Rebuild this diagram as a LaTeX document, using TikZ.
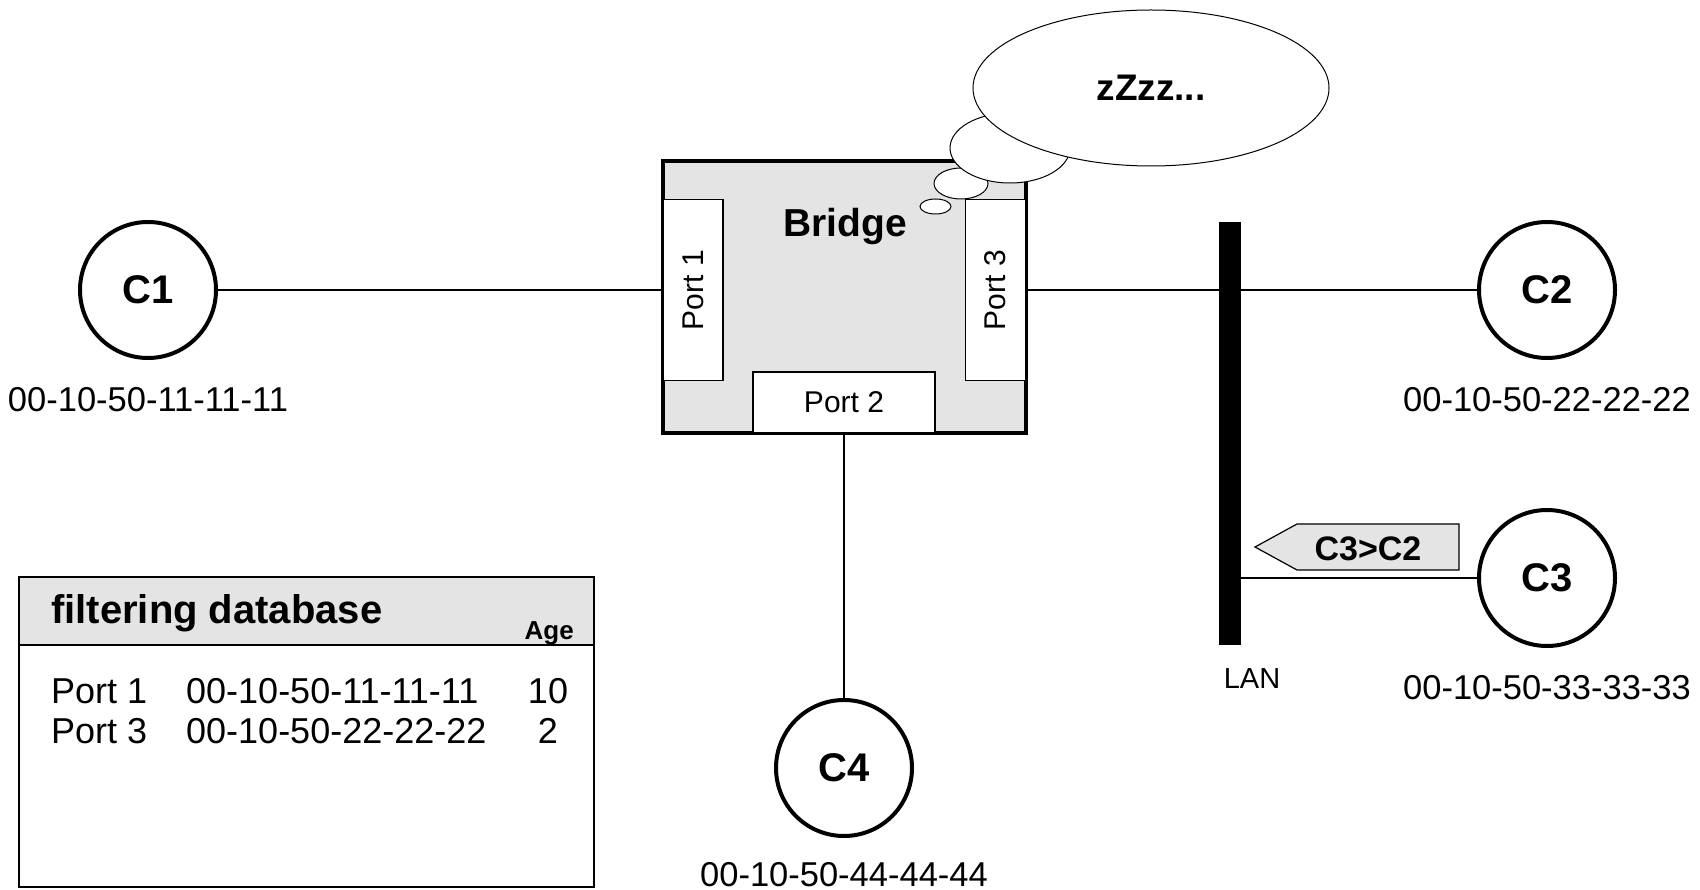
\documentclass[tikz,border=0pt]{standalone}
\usepackage{fontspec}
\setmainfont{Liberation Sans}
\usepackage{tikz}
\usetikzlibrary{positioning,shapes.geometric}
\definecolor{boxgray}{RGB}{228,228,228}
\newcommand{\fsz}[1]{\fontsize{#1}{#1}\selectfont}

\begin{document}
\begin{tikzpicture}[x=1pt, y=-1pt,
    host/.style={circle, draw, line width=4pt, minimum size=136pt, inner sep=0pt,
                 font=\fsz{40}\bfseries},
    mac/.style={inner sep=0pt, outer sep=0pt, font=\fsz{34.5}},
    port/.style={rectangle, draw, fill=white, line width=1.2pt, inner sep=0pt, font=\fsz{30}},
    wire/.style={line width=1.5pt},
    bubble/.style={draw, fill=white, line width=1pt},
    row/.style={anchor=base west, inner sep=0pt, font=\fsz{36}}]
\useasboundingbox (0,0) rectangle (1700,890);

% stations
\node[host] (c1) at (148,290) {C1};
\node[host] (c2) at (1547,290) {C2};
\node[host] (c3) at (1547,578) {C3};
\node[host] (c4) at (844,768) {C4};
\node[mac, below=27pt of c1] (m1) {00-10-50-11-11-11};
\node[mac, below=27pt of c2] (m2) {00-10-50-22-22-22};
\node[mac, below=27pt of c3] (m3) {00-10-50-33-33-33};
\node[mac, below=24pt of c4] (m4) {00-10-50-44-44-44};

% bridge
\node[draw, fill=boxgray, line width=4pt, minimum width=363pt, minimum height=272pt,
      inner sep=0pt] (bridge) at (844.5,297) {};
\node[port, rotate=90, minimum width=181pt, minimum height=60pt] (port1) at (693,290) {Port 1};
\node[port, rotate=90, minimum width=181pt, minimum height=60pt] (port3) at (995.5,290) {Port 3};
\node[port, minimum width=182pt, minimum height=61pt] (port2) at (844,402.5) {Port 2};
\node[font=\fsz{39}\bfseries, anchor=base, inner sep=0pt] (name) at (845,237) {Bridge};

% thought bubble
\draw[bubble] (935.5,206.5) ellipse [x radius=15.5pt, y radius=7.5pt];
\draw[bubble] (961,183.5) ellipse [x radius=27pt, y radius=15.5pt];
\draw[bubble] (1010,148) ellipse [x radius=60pt, y radius=35pt];
\node[bubble, ellipse, minimum width=356pt, minimum height=156pt,
      font=\fsz{37}\bfseries] (dream) at (1151,88) {zZzz...};

% LAN segment
\node[fill=black, minimum width=22pt, minimum height=423pt, inner sep=0pt] (lan) at (1230,433.5) {};
\node[font=\fsz{29}, anchor=base, inner sep=0pt] (lanlbl) at (1252,688) {LAN};

% links
\draw[wire] (c1) -- (port1);
\draw[wire] (port3) -- (port3 -| lan.west);
\draw[wire] (lan.east |- c2) -- (c2);
\draw[wire] (c3) -- (c3 -| lan.east);
\draw[wire] (port2) -- (c4);

% frame on the wire
\draw[line width=1.2pt, fill=boxgray] (1255,547) -- (1297,524) -- (1459,524)
    -- (1459,570) -- (1297,570) -- cycle;
\node[font=\fsz{34}\bfseries, anchor=base, inner sep=0pt] (msg) at (1368,560) {C3>C2};

% filtering database
\draw[line width=1.5pt] (19,577) rectangle (594,887);
\draw[line width=1.5pt, fill=boxgray] (19,577) rectangle (594,645);
\node[anchor=base west, inner sep=0pt, font=\fsz{40}\bfseries] (fdb) at (51,623) {filtering database};
\node[anchor=base east, inner sep=0pt, font=\fsz{26}\bfseries] (age) at (574,639) {Age};
\node[row] (p1) at (51,703) {Port 1};
\node[row] (a1) at (186,703) {00-10-50-11-11-11};
\node[row, anchor=base] (t1) at (548,703) {10};
\node[row] (p3) at (51,743) {Port 3};
\node[row] (a3) at (186,743) {00-10-50-22-22-22};
\node[row, anchor=base] (t3) at (548,743) {2};
\end{tikzpicture}
\end{document}
